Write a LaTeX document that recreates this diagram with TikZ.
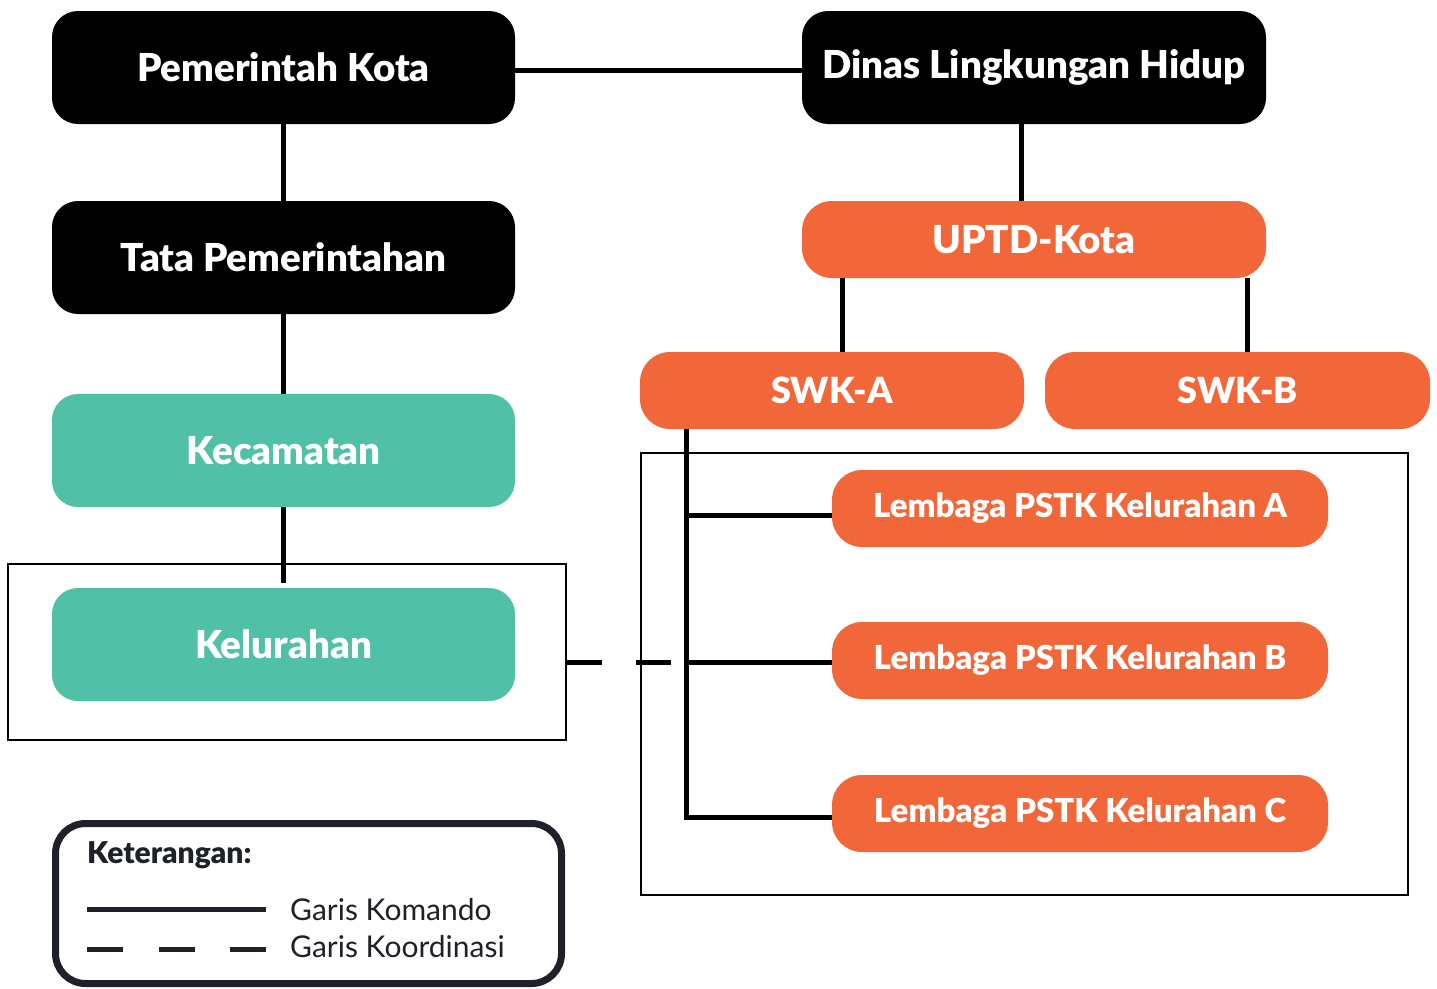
\documentclass[tikz,border=0pt]{standalone}
\usepackage{fontspec}
\setmainfont{Lato}
\newfontfamily\blackfont{Lato Black}
\usetikzlibrary{calc}
\definecolor{orgc}{HTML}{F2673A}
\definecolor{tealc}{HTML}{50C0A7}
\definecolor{darkc}{HTML}{1E2128}
\tikzset{
  bigbox/.style={rectangle, rounded corners=26pt, minimum width=463pt, minimum height=113pt, inner sep=0pt, text=white, font=\fontsize{38.5}{42}\selectfont\blackfont},
  blackbox/.style={bigbox, fill=black},
  tealbox/.style={bigbox, fill=tealc},
  orgbox/.style={rectangle, rounded corners=30pt, minimum height=77pt, inner sep=0pt, fill=orgc, text=white, font=\fontsize{38.5}{42}\selectfont\blackfont},
  swkbox/.style={orgbox, font=\fontsize{36}{40}\selectfont\blackfont},
  lembox/.style={orgbox, minimum width=496pt, font=\fontsize{33}{36}\selectfont\blackfont},
  frame/.style={rectangle, draw=black, line width=2pt, inner sep=0pt},
  cmd/.style={line width=5pt, draw=black},
  coord/.style={line width=5pt, draw=black, dash pattern=on 35pt off 34pt},
  legtext/.style={anchor=base west, inner sep=0pt, text=darkc}
}
\begin{document}
\begin{tikzpicture}[x=1pt, y=-1pt]
\useasboundingbox (0,0) rectangle (1437,988);
% frames
\node[frame, minimum width=558pt, minimum height=176pt] (kelframe) at (287,652) {};
\node[frame, minimum width=767pt, minimum height=442pt] (rframe) at (1024.5,674) {};
% left column
\node[blackbox] (pk) at (283.5,67.5) {Pemerintah Kota};
\node[blackbox] (tp) at (283.5,257.5) {Tata Pemerintahan};
\node[tealbox] (kec) at (283.5,450.5) {Kecamatan};
\node[tealbox] (kel) at (283.5,644.5) {Kelurahan};
% right column
\node[blackbox, minimum width=464pt] (dlh) at (1034,67.5) {Dinas Lingkungan Hidup};
\node[orgbox, minimum width=464pt] (uptd) at (1034,239.5) {UPTD-Kota};
\node[swkbox, minimum width=384pt] (swka) at (832,390.5) {SWK-A};
\node[swkbox, minimum width=385pt] (swkb) at (1237.5,390.5) {SWK-B};
\node[lembox] (la) at (1080,508.5) {Lembaga PSTK Kelurahan A};
\node[lembox] (lb) at (1080,660.5) {Lembaga PSTK Kelurahan B};
\node[lembox] (lc) at (1080,813.5) {Lembaga PSTK Kelurahan C};
% connectors
\draw[cmd] ([yshift=-2.5pt]pk.east) -- ([yshift=-2.5pt]dlh.west);
\draw[cmd] (pk.south) -- (tp.north);
\draw[cmd] (tp.south) -- (kec.north);
\coordinate (kelstop) at ([yshift=5pt]kel.north);
\draw[cmd] (kec.south) -- (kelstop);
\draw[cmd] ([xshift=-13pt]dlh.south) -- ([xshift=-13pt]uptd.north);
\draw[cmd] ([xshift=10pt]swka.north |- uptd.south) -- ([xshift=10pt]swka.north);
\draw[cmd] ([xshift=9.5pt]swkb.north |- uptd.south) -- ([xshift=9.5pt]swkb.north);
\coordinate (v) at ([xshift=-146pt]swka.south);
\draw[cmd, line cap=butt] (v) |- ([yshift=-3.5pt]lc.west);
\draw[cmd] (la.west -| v) ++(0,6.5) -- ([yshift=-6.5pt]la.west);
\draw[cmd] ([yshift=-1.5pt]lb.west -| v) -- ([yshift=-1.5pt]lb.west);
\draw[coord] ([yshift=-1.5pt]lb.west -| kelframe.east) -- ([yshift=-1.5pt]lb.west -| v);
% legend
\draw[darkc, line width=7pt, rounded corners=30pt] (55.5,823.5) rectangle (561.5,983.5);
\node[legtext, font=\fontsize{30}{34}\selectfont\blackfont] (ket) at (87,863) {Keterangan:};
\coordinate (ls1) at (87,909);
\coordinate (ls2) at (266,909);
\coordinate (ld1) at (87,949);
\coordinate (ld2) at (266,949);
\draw[line width=5pt, darkc] (ls1) -- (ls2);
\draw[line width=5pt, darkc, dash pattern=on 36pt off 35.5pt] (ld1) -- (ld2);
\node[legtext, font=\fontsize{30}{34}\selectfont] (gk) at (290,920) {Garis Komando};
\node[legtext, font=\fontsize{30}{34}\selectfont] (gko) at (290,957) {Garis Koordinasi};
\end{tikzpicture}
\end{document}
